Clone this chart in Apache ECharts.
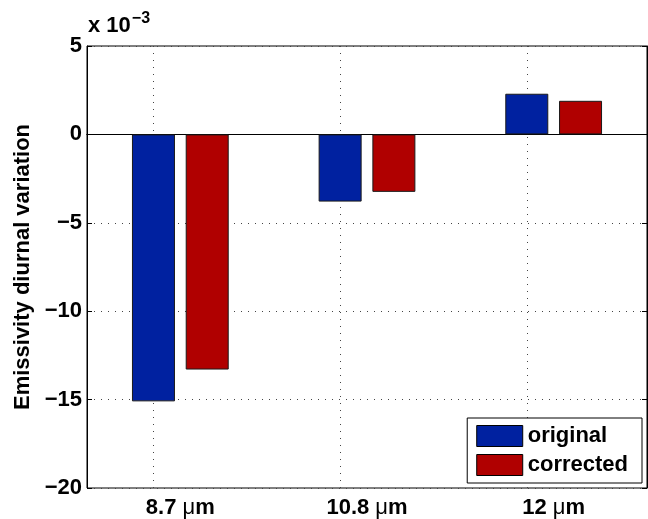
<!DOCTYPE html>
<html>
<head>
<meta charset="utf-8">
<script src="https://cdn.jsdelivr.net/npm/echarts@6/dist/echarts.min.js"></script>
<style>
  html, body { margin: 0; padding: 0; background: #fff; }
  #chart { width: 648px; height: 519px; }
</style>
</head>
<body>
<div id="chart"></div>
<script>
// bar groups along the x axis
var categories = ['8.7 μm', '10.8 μm', '12 μm']
// emissivity diurnal variation, in units of 1e-3
var original = [-15.1, -3.8, 2.3]
var corrected = [-13.3, -3.25, 1.9]
var seriesNames = ['original', 'corrected']
var yMin = -20
var yMax = 5
var yStep = 5

var blue = '#0021a0'
var red = '#b00000'
var FONT = '"Liberation Sans", Arial, sans-serif'

var chart = echarts.init(document.getElementById('chart'))

function minus(v) {
  return v < 0 ? '\u2212' + Math.abs(v) : String(v)
}

function catLabel(v) {
  var parts = v.split(' ')
  return '{n|' + parts[0] + ' }{mu|μ}{n|m}'
}

var dotted = { color: '#444', type: [1, 6], width: 1 }

var option = {
  animation: false,
  backgroundColor: '#fff',
  textStyle: { fontFamily: FONT },
  grid: {
    left: 87, right: 1, top: 46, bottom: 31,
    show: true, borderColor: '#000', borderWidth: 1, backgroundColor: '#fff'
  },
  legend: {
    data: seriesNames,
    orient: 'vertical',
    right: 6,
    top: 418,
    itemWidth: 46,
    itemHeight: 21,
    itemGap: 7,
    padding: [7, 14, 7, 9],
    backgroundColor: '#fff',
    borderColor: '#000',
    borderWidth: 1,
    icon: 'rect',
    itemStyle: { borderColor: '#000', borderWidth: 1 },
    textStyle: { fontSize: 22, fontWeight: 'bold', color: '#000', fontFamily: FONT },
    z: 20
  },
  xAxis: [
    {
      type: 'category',
      data: categories,
      position: 'bottom',
      axisLine: { lineStyle: { color: '#000', width: 1 } },
      axisTick: { inside: true, alignWithLabel: true, length: 5, lineStyle: { color: '#000' } },
      axisLabel: {
        margin: 9,
        formatter: catLabel,
        rich: {
          n: { fontSize: 22, fontWeight: 'bold', color: '#000', fontFamily: FONT },
          mu: { fontSize: 22, fontWeight: 'normal', color: '#000', fontFamily: FONT }
        }
      },
      splitLine: { show: false }
    },
    {
      type: 'category',
      data: categories,
      position: 'top',
      axisLine: { lineStyle: { color: '#000' } },
      axisTick: { inside: true, alignWithLabel: true, length: 5, lineStyle: { color: '#000' } },
      axisLabel: { show: false },
      splitLine: { show: false }
    }
  ],
  yAxis: [
    {
      type: 'value',
      min: yMin,
      max: yMax,
      interval: yStep,
      position: 'left',
      name: 'Emissivity diurnal variation',
      nameLocation: 'middle',
      nameGap: 53,
      nameTextStyle: { fontSize: 22, fontWeight: 'bold', color: '#000', fontFamily: FONT },
      axisLine: { show: true, lineStyle: { color: '#000' } },
      axisTick: { show: true, inside: true, length: 5, lineStyle: { color: '#000' } },
      axisLabel: {
        formatter: minus, margin: 5, fontSize: 22, fontWeight: 'bold', color: '#000', fontFamily: FONT
      },
      splitLine: { show: true, lineStyle: dotted }
    },
    {
      type: 'value',
      min: yMin,
      max: yMax,
      interval: yStep,
      position: 'right',
      axisLine: { show: true, lineStyle: { color: '#000' } },
      axisTick: { show: true, inside: true, length: 5, lineStyle: { color: '#000' } },
      axisLabel: { show: false },
      splitLine: { show: false }
    }
  ],
  series: [
    {
      name: seriesNames[0],
      type: 'bar',
      data: original,
      barWidth: 43,
      barGap: '25%',
      itemStyle: { color: blue, borderColor: '#1a1a1a', borderWidth: 1 },
      markLine: {
        silent: true,
        symbol: ['none', 'none'],
        label: { show: false },
        z: 1,
        data: categories.map(function (c) {
          return { xAxis: c, lineStyle: dotted }
        }).concat([{ yAxis: 0, lineStyle: { color: '#000', type: 'solid', width: 1.2 } }])
      }
    },
    {
      name: seriesNames[1],
      type: 'bar',
      data: corrected,
      barWidth: 43,
      barGap: '25%',
      itemStyle: { color: red, borderColor: '#1a1a1a', borderWidth: 1 }
    }
  ],
  graphic: [
    {
      type: 'text',
      left: 88,
      top: 11,
      style: {
        text: '{a|x 10}{s|\u22123}',
        rich: {
          a: { fontSize: 22, fontWeight: 'bold', fill: '#000', fontFamily: FONT, verticalAlign: 'bottom' },
          s: { fontSize: 16, fontWeight: 'bold', fill: '#000', fontFamily: FONT, verticalAlign: 'top', padding: [0, 0, 10, 1] }
        }
      }
    }
  ]
}

chart.setOption(option)
</script>
</body>
</html>
